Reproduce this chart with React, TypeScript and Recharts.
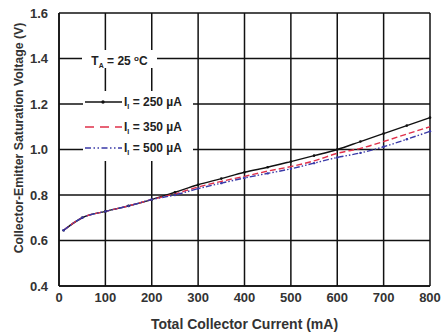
import React from 'react';
import { LineChart, Line, XAxis, YAxis, CartesianGrid, Legend } from 'recharts';

const currents = [10, 50, 100, 150, 200, 250, 300, 350, 400, 450, 500, 550, 600, 650, 700, 750, 800];
const vce250 = [0.645, 0.7, 0.728, 0.752, 0.78, 0.812, 0.845, 0.872, 0.9, 0.922, 0.947, 0.973, 1.0, 1.035, 1.07, 1.105, 1.14];
const vce350 = [0.645, 0.7, 0.728, 0.752, 0.78, 0.805, 0.835, 0.86, 0.882, 0.905, 0.925, 0.95, 0.983, 1.005, 1.035, 1.068, 1.1];
const vce500 = [0.645, 0.7, 0.728, 0.752, 0.78, 0.8, 0.828, 0.852, 0.875, 0.895, 0.915, 0.94, 0.965, 0.985, 1.012, 1.045, 1.08];
const xTicks = [0, 100, 200, 300, 400, 500, 600, 700, 800];
const yTicks = [0.4, 0.6, 0.8, 1.0, 1.2, 1.4, 1.6];
const legendRows = [
  { label: '250', color: '#111111', dash: '', dot: true },
  { label: '350', color: '#e0304a', dash: '9 6', dot: false },
  { label: '500', color: '#3a3aa8', dash: '6 2.5 1.5 2.5 1.5 2.5', dot: false },
];

const data = currents.map((c, i) => ({
  ic: c,
  a: vce250[i],
  b: vce350[i],
  c: vce500[i],
}));

const FONT = '"Liberation Sans", Arial, sans-serif';
const rowTops = [94, 119, 140];

const LegendBox = () => (
  <div style={{ position: 'relative', width: 0, height: 0, fontFamily: FONT, fontWeight: 'bold', fontSize: 12, color: '#222' }}>
    <div style={{ position: 'absolute', left: 82, top: 50, width: 75, height: 18, background: '#fff', lineHeight: '18px', textAlign: 'center', whiteSpace: 'nowrap' }}>
      T<sub style={{ fontSize: 7, verticalAlign: '-3px' }}>A</sub> = 25 <sup style={{ fontSize: 8, verticalAlign: '4px' }}>o</sup>C
    </div>
    <div style={{ position: 'absolute', left: 83, top: 91, width: 110, height: 70, background: '#fff' }} />
    {legendRows.map((r, i) => (
      <div key={r.label} style={{ position: 'absolute', left: 84, top: rowTops[i], height: 16, width: 110, whiteSpace: 'nowrap' }}>
        <svg width={38} height={16} style={{ position: 'absolute', left: 0, top: 0 }}>
          <line x1={1} y1={8} x2={38} y2={8} stroke={r.color} strokeWidth={1.4} strokeDasharray={r.dash} />
          {r.dot && <circle cx={19} cy={8} r={1.7} fill={r.color} />}
        </svg>
        <span style={{ position: 'absolute', left: 40, top: 0, lineHeight: '16px' }}>
          I<sub style={{ fontSize: 7, verticalAlign: '-3px' }}>I</sub> = {r.label} µA
        </span>
      </div>
    ))}
  </div>
);

const YLabel = () => (
  <text
    transform="translate(19,138) rotate(-90)"
    textAnchor="middle"
    dominantBaseline="central"
    fill="#333"
    fontSize={12.3}
    fontWeight="bold"
    fontFamily={FONT}
  >
    Collector-Emitter Saturation Voltage (V)
  </text>
);

export default function App() {
  return (
    <div style={{ position: 'absolute', left: 0, top: 0, background: '#fff' }}>
      <LineChart width={443} height={335} data={data} margin={{ top: 13, right: 13, left: 0, bottom: 0 }}>
        <CartesianGrid stroke="#111" strokeWidth={1.5} horizontalValues={yTicks} verticalValues={xTicks} />
        <XAxis
          dataKey="ic"
          type="number"
          domain={[0, 800]}
          ticks={xTicks}
          height={49}
          axisLine={{ stroke: '#111', strokeWidth: 1.5 }}
          tickLine={false}
          tick={{ fill: '#333', fontSize: 13, fontWeight: 'bold', fontFamily: FONT }}
          tickMargin={1}
          label={{ value: 'Total Collector Current (mA)', position: 'insideBottom', offset: 6, style: { fill: '#333', fontSize: 14, fontWeight: 'bold', fontFamily: FONT } }}
        />
        <YAxis
          type="number"
          domain={[0.4, 1.6]}
          ticks={yTicks}
          width={59}
          axisLine={{ stroke: '#111', strokeWidth: 1.5 }}
          tickLine={false}
          tickFormatter={(v: number) => v.toFixed(1)}
          tick={{ fill: '#333', fontSize: 13, fontWeight: 'bold', fontFamily: FONT }}
          tickMargin={5}
          label={<YLabel />}
        />
        <Legend content={<LegendBox />} wrapperStyle={{ position: 'absolute', left: 0, top: 0, width: 0, height: 0 }} />
        <Line type="monotone" dataKey="a" stroke="#111" strokeWidth={1.4} dot={{ r: 1.3, fill: '#111', stroke: 'none' }} isAnimationActive={false} />
        <Line type="monotone" dataKey="b" stroke="#e0304a" strokeWidth={1.4} strokeDasharray="6 3" dot={false} isAnimationActive={false} />
        <Line type="monotone" dataKey="c" stroke="#3a3aa8" strokeWidth={1.4} strokeDasharray="6 2 1.5 2 1.5 2" dot={{ r: 1.2, fill: '#3a3aa8', stroke: 'none' }} isAnimationActive={false} />
      </LineChart>
    </div>
  );
}
